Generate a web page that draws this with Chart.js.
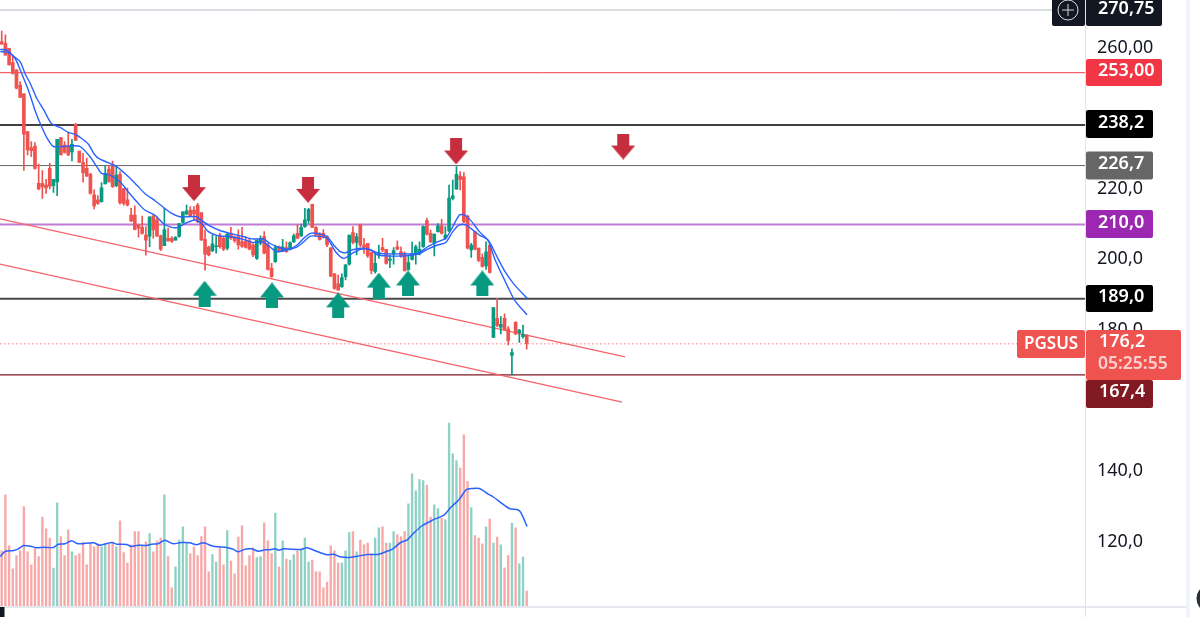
<!DOCTYPE html>
<html><head><meta charset="utf-8">
<style>html,body{margin:0;padding:0;background:#fff;overflow:hidden}canvas{display:block}</style>
<script src="https://cdn.jsdelivr.net/npm/chart.js@4/dist/chart.umd.min.js"></script>
</head><body><canvas id="c" width="1200" height="617"></canvas>
<script>
const opens=[261.8,261.3,259.9,255.9,253.8,249.5,247.0,236.3,231.8,232.2,
221.7,221.7,221.2,225.9,221.0,222.1,234.6,232.5,232.3,230.6,
238.4,230.8,227.6,225.9,224.3,218.4,217.0,216.5,221.5,225.7,
226.7,221.0,224.2,220.2,217.0,212.7,212.7,209.9,209.2,207.0,
206.7,212.4,211.3,206.8,204.0,206.1,206.1,205.6,206.6,210.6,
213.0,214.1,214.1,215.5,213.4,205.8,203.6,202.6,203.7,207.0,
206.1,203.3,207.5,206.4,206.6,205.2,205.2,205.4,204.2,200.4,
204.7,206.6,204.2,197.6,199.5,203.7,202.6,203.5,203.0,205.1,
207.5,206.8,209.4,211.1,215.7,209.2,207.3,207.5,206.6,203.4,
196.0,193.2,192.4,195.2,198.8,207.7,204.9,209.9,204.2,204.7,
202.1,196.7,201.4,203.5,203.0,199.8,201.6,203.7,202.3,201.8,
197.3,200.1,201.6,201.6,203.7,211.1,207.5,204.7,208.0,209.6,
206.1,208.2,217.4,220.0,223.7,223.5,212.4,202.8,208.0,203.3,
200.7,198.3,204.2,178.0,183.4,180.9,183.4,180.4,172.9,182.3,
179.4,178.2,178.7];
const closes=[261.1,258.0,255.2,252.8,248.6,246.0,235.6,231.1,230.9,225.9,
220.1,220.7,220.4,220.9,222.8,234.1,229.7,230.4,229.7,232.7,
233.8,227.6,224.7,223.7,218.8,215.3,216.0,220.4,224.5,222.1,
220.7,224.0,216.1,216.0,215.5,211.0,208.6,209.0,207.5,205.6,
212.2,208.5,206.7,203.0,208.6,205.4,205.2,206.4,210.3,213.6,
213.8,212.4,213.0,210.8,205.6,201.6,201.4,204.5,204.0,203.7,
203.0,207.2,206.1,205.4,204.2,203.9,203.5,203.0,201.4,205.6,
206.1,201.9,197.3,195.2,203.5,202.6,203.7,202.3,204.9,206.8,
206.1,209.2,211.3,214.3,209.2,207.0,205.8,206.4,204.2,195.4,
191.9,191.4,195.0,198.5,207.0,204.9,206.6,204.2,203.5,201.1,
196.9,199.0,201.8,202.8,199.0,200.3,202.6,203.0,201.1,196.9,
199.2,201.6,203.7,203.0,209.4,207.3,205.1,207.3,209.6,207.5,
207.0,217.5,218.1,224.2,222.8,210.8,203.3,204.2,203.0,199.8,
198.1,202.3,196.4,186.5,181.4,181.7,180.3,177.1,173.7,179.0,
180.1,178.9,176.3];
const highs=[264.8,263.7,259.9,258.0,253.8,250.5,247.0,236.3,233.5,233.2,
227.1,225.3,222.8,227.3,222.8,234.1,234.6,233.5,236.1,234.1,
238.7,230.8,230.2,228.8,224.5,219.8,218.2,221.9,226.6,226.7,
228.0,226.4,225.0,220.2,220.3,214.6,215.3,209.9,212.4,209.4,
212.2,212.7,212.2,207.0,214.6,209.0,206.6,206.6,210.3,213.6,
215.5,215.1,215.1,216.0,213.4,208.5,203.9,207.0,206.6,207.5,
206.6,207.5,209.2,206.8,208.5,209.2,206.6,206.1,204.5,205.6,
206.8,208.0,204.7,199.0,204.2,203.9,205.8,205.1,205.1,207.3,
209.9,210.1,214.6,214.6,215.8,209.4,207.7,208.6,206.8,203.4,
196.2,195.7,196.0,198.7,207.0,209.4,207.5,210.1,206.1,204.7,
202.3,202.0,204.2,206.1,203.0,201.4,203.5,205.4,203.7,202.3,
201.4,205.0,204.2,205.1,209.6,211.8,208.4,207.3,210.3,211.5,
209.4,221.2,222.6,226.4,225.0,224.7,212.7,204.7,208.0,203.3,
201.7,205.1,204.2,186.5,189.1,183.9,184.7,181.1,174.8,182.5,
180.3,181.5,178.7];
const lows=[261.1,258.0,255.2,252.6,248.4,246.0,225.3,229.7,229.2,225.7,
219.8,217.4,218.8,220.1,219.1,218.2,229.7,230.2,229.5,228.0,
233.8,227.5,222.0,223.6,218.6,214.4,215.7,216.3,221.5,222.0,
220.5,220.7,215.8,215.5,215.3,210.8,208.5,206.4,207.3,201.3,
203.7,206.1,206.6,202.6,204.0,205.2,204.9,205.6,206.4,210.3,
212.7,212.2,211.3,210.5,205.6,197.1,201.1,202.3,201.9,203.3,
202.6,202.8,205.8,204.9,203.0,203.5,203.3,202.8,200.9,200.1,
204.2,201.7,197.1,195.0,199.3,202.3,202.3,202.1,202.8,204.9,
205.9,206.6,209.2,210.3,209.2,206.6,205.6,206.1,203.7,195.2,
191.6,191.4,192.2,194.3,198.5,204.5,201.4,203.7,201.8,200.7,
196.0,196.2,200.4,202.3,198.8,197.8,198.8,202.8,200.7,196.8,
197.1,199.9,198.8,201.4,203.5,207.0,204.9,201.1,207.8,207.3,
205.8,208.0,217.0,220.0,219.8,210.5,203.1,200.7,202.8,199.5,
197.9,197.3,196.2,178.0,181.1,179.0,180.1,175.9,167.4,178.8,
176.6,177.8,174.7];
const volumes=[55.7,111.7,60.7,37.7,51,55.7,100,54.7,41.7,58,
50,89.3,77.7,68.3,38.3,103.7,70,51,76.7,54.7,
51,52.7,64.3,41.7,63.3,59.7,61.7,59.7,62.3,63.3,
64.3,59.7,85.7,54,43.3,61.7,75,75,60.7,64.7,
73,54.7,65.7,68.3,111.7,50,18.7,39.7,66.3,79.7,
63.3,53,59.7,51,70,79.7,34.7,52,44.3,58.7,
41.7,76,45.3,32.7,69.3,80.7,40.7,51,58.7,49,
50,83.7,65.7,53,93.3,39.7,65.7,47.3,46.3,52,
55.7,56.7,68.3,44.3,46.3,34.7,34.7,18.7,24.3,60.7,
55.7,43.3,43.3,55.7,74,75,54.7,66.3,61.7,63.3,
52.7,68.3,78.7,79.7,63.3,63.3,75,72,70,75,
102.7,132.7,115.7,127,126,121.3,89.3,101.7,98,88.3,
86.7,183.3,152.7,146,138.3,171.7,125,99,71,68.3,
62.7,79.7,87.3,63.3,69.3,61.7,38.7,51,83.3,78.7,
42.7,49.3,15.3];
const maUpperIdx=[-0.4,1.4,3.2,5.0,6.3,7.7,9.5,11.3,13.1,14.0,15.8,18.0,19.8,21.2,23.4,25.2,26.6,29.3,31.1,33.8,36.5,38.7,41.4,43.7,45.9,48.2,52.7,54.1,56.3,59.0,61.7,65.3,68.0,70.7,72.5,74.4,77.2,79.9,81.7,83.5,85.3,88.0,89.8,91.6,93.0,94.8,97.1,99.3,101.6,104.3,108.8,112.5,115.2,117.9,120.1,122.0,123.8,125.1,126.9,129.2,131.9,134.2,136.4,138.7,142.1];
const maUpper=[259.6,259.4,257.7,256.1,252.8,250.0,245.7,242.6,239.1,238.2,237.5,236.1,235.6,234.7,232.8,229.7,228.5,227.3,226.4,224.0,221.2,218.8,216.8,214.9,213.2,212.2,212.2,211.1,209.6,208.3,207.5,206.6,205.9,205.9,204.7,203.7,203.0,204.2,206.1,207.5,207.5,206.6,204.2,202.3,202.0,202.8,203.3,203.0,202.0,201.7,201.7,201.8,203.7,205.1,206.1,209.4,212.7,212.7,211.1,208.0,205.1,200.4,196.2,192.9,189.1];
const maLowerIdx=[-0.4,1.8,3.6,5.4,7.2,9.0,10.8,12.6,14.0,16.7,18.9,21.2,23.9,25.7,27.0,29.3,32.0,34.2,36.5,38.7,41.4,43.7,45.9,47.7,50.0,52.3,54.1,55.9,58.6,61.7,65.3,68.0,70.7,72.5,74.4,77.2,79.9,81.7,83.5,85.3,88.0,90.3,92.5,94.8,97.1,99.8,101.6,104.3,108.8,112.5,115.2,117.9,120.1,122.0,123.8,125.6,126.9,129.2,131.5,133.3,136.0,138.7,142.1];
const maLower=[259.0,258.7,257.1,252.8,248.1,242.4,237.7,233.9,232.1,232.1,232.3,232.1,229.2,226.4,224.5,224.0,222.1,219.3,216.5,214.1,212.7,210.3,209.2,209.2,210.5,211.3,210.2,208.0,206.8,206.6,205.8,204.9,205.1,203.7,202.3,202.8,203.7,205.1,206.7,206.7,206.1,202.3,200.4,201.8,203.0,202.8,201.4,201.1,201.1,201.6,203.0,204.2,204.9,208.0,209.9,209.9,208.9,207.0,205.6,200.4,194.3,188.6,184.4];
const volMaIdx=[-0.4,0.9,3.2,4.5,5.9,7.7,9.5,11.3,14.0,15.3,17.1,18.9,20.7,24.8,26.6,29.7,31.1,33.8,35.1,36.9,39.2,40.5,42.3,44.1,46.4,48.6,50.9,52.7,54.5,57.2,59.0,60.8,62.6,64.0,65.8,67.6,69.4,71.2,72.6,74.0,74.9,76.3,80.8,82.6,85.3,88.0,89.8,91.6,93.9,96.2,98.9,102.0,104.3,105.7,107.9,109.7,111.6,113.8,116.5,119.7,121.5,123.8,125.6,127.4,129.2,131.5,132.8,137.3,139.6,140.5,142.1];
const volMa=[50,55,56,57.7,61,60.3,58.7,59.3,59,62.3,62.7,65.7,62.7,63.7,61.3,64,62.3,62,60,61.3,61,62.3,62.7,66.3,62.7,64,63.7,61.7,63.7,60.3,59.7,59,57.3,54.7,57.3,57.7,55.3,56.7,56.7,57.7,56.3,57.7,57,58.7,55,51.7,52.3,49.7,49,50.3,52,52.3,55.3,57.3,64,66.7,74,81,86.3,91.7,99.3,107.3,116.7,118,118,112.7,110,98,96.7,93.3,80];
const trendIdx=[-0.46,168.6];
const trendUpper=[211.6,172.5];
const trendLowerIdx=[-0.46,167.8];
const trendLower=[198.8,159.7];
const downArrowIdx=[52.0,82.85,122.9,168.1];
const downArrowPrice=[220.3,219.8,230.7,232.1];
const upArrowIdx=[54.9,73.1,91.0,102.0,109.9,130.0];
const upArrowPrice=[190.4,189.9,187.1,192.7,193.3,193.3];
const tickValues=[260,240,220,200,180,160,140,120];
const levelPrices=[270.75,253,238.2,226.7,210,189,176.2,167.4];
const levelColors=['#b2bcc6','#f23645','#000000','#666666','#c27bd3','#4a4a4a','#f77c80','#801922'];
const levelWidths=[1,1,1.4,1,2,2,1,1.2];
const levelTexts=['270,75','253,00','238,2','226,7','210,0','189,0','176,2','167,4'];
const XMIN=-0.46, XMAX=293, PMIN=101.8, PMAX=273.6, VMAX=606.5;

const UP='#089981', DOWN='#ef5350', UPV='rgba(8,153,129,.45)', DOWNV='rgba(239,83,80,.5)';
const idx=opens.map((_,i)=>i);
const isUp=i=>closes[i]>opens[i];
const candleCol=idx.map(i=>isUp(i)?UP:DOWN);
const volCol=idx.map(i=>isUp(i)?UPV:DOWNV);
const pairs=(xs,ys)=>xs.map((x,i)=>({x,y:ys[i]}));

function arrow(up,color){
  const c=document.createElement('canvas'),w=24,h=26;c.width=w;c.height=h;
  const g=c.getContext('2d');g.fillStyle=color;g.beginPath();
  if(up){g.moveTo(12,0);g.lineTo(24,15);g.lineTo(18,15);g.lineTo(18,26);g.lineTo(6,26);g.lineTo(6,15);g.lineTo(0,15);}
  else{g.moveTo(6,0);g.lineTo(18,0);g.lineTo(18,12);g.lineTo(24,12);g.lineTo(12,26);g.lineTo(0,12);g.lineTo(6,12);}
  g.closePath();g.fill();return c;
}
const levelDatasets=levelPrices.map((p,i)=>({type:'line',data:[{x:XMIN,y:p},{x:XMAX,y:p}],borderColor:levelColors[i],borderWidth:levelWidths[i],borderDash:i===6?[1.5,2.5]:[],pointRadius:0,order:i===4?6:5,yAxisID:'y'}));
const lineDs=(data,color,w,axis,order)=>({type:'line',data,borderColor:color,borderWidth:w,pointRadius:0,tension:0.25,yAxisID:axis,order});

const fontN='"Noto Sans",sans-serif';
const labelPlugin={id:'priceLabels',afterDraw(ch){
  const g=ch.ctx;
  const box=(x,y,w,h,col)=>{g.fillStyle=col;g.beginPath();g.roundRect(x,y,w,h,2);g.fill();};
  const txt=(s,x,y,col,f)=>{g.fillStyle=col;g.font=f||'600 18px '+fontN;g.textAlign='left';g.textBaseline='middle';g.fillText(s,x,y);};
  g.save();
  g.fillStyle='#f0f3fa';g.fillRect(1186,0,4,617);
  g.fillStyle='#e6e8ef';g.fillRect(0,606,1186,2);
  g.fillStyle='#e0e3eb';g.fillRect(1085,0,1,617);
  g.fillStyle='#131722';g.fillRect(0,607,4.5,10);
  g.fillStyle='#2a2e39';g.beginPath();g.ellipse(1206,598.5,9.5,12,0,0,2*Math.PI);g.fill();
  box(1052,-3,33,29,'#131722');
  g.strokeStyle='#d6d8de';g.lineWidth=1;g.beginPath();g.arc(1068,10,10,0,2*Math.PI);g.moveTo(1062,10);g.lineTo(1074,10);g.moveTo(1068,4);g.lineTo(1068,16);g.stroke();
  const W='#ffffff';
  const rows=[[0,-3,29,76,'#131722',8.5],[1,59,27,76,'#f23645',71],[2,110,28,67,'#000000',123],[3,151.5,28,67,'#666666',164],[4,210,28,67,'#9c27b0',222.5],[5,285,27,67,'#000000',297]];
  rows.forEach(r=>{box(1086,r[1],r[3],r[2],r[4]);txt(levelTexts[r[0]],1098,r[5],W);});
  box(1017,330,68,28,'#ef5350');txt('PGSUS',1024,344,W,'600 17px '+fontN);
  box(1086,330,95,50,'#ef5350');txt(levelTexts[6],1099,342,W);txt('05:25:55',1098,364,'rgba(255,255,255,.72)','600 17.5px '+fontN);
  box(1086,380,67,28,'#801922');txt(levelTexts[7],1099,392,W);
  g.restore();
}};

new Chart(document.getElementById('c'),{
  data:{datasets:[
    ...levelDatasets,
    lineDs(pairs(trendIdx,trendUpper),'#f7636b',1.4,'y',4),
    lineDs(pairs(trendLowerIdx,trendLower),'#f7636b',1.4,'y',4),
    {type:'bar',data:idx.map(i=>({x:i,y:volumes[i]})),backgroundColor:volCol,barThickness:1.7,yAxisID:'v',grouped:false,order:8},
    {type:'bar',data:idx.map(i=>({x:i,y:[lows[i],highs[i]]})),backgroundColor:candleCol,barThickness:1,yAxisID:'y',grouped:false,order:3},
    {type:'bar',data:idx.map(i=>({x:i,y:[opens[i],closes[i]]})),backgroundColor:candleCol,barThickness:3,yAxisID:'y',grouped:false,order:2},
    lineDs(pairs(maUpperIdx,maUpper),'#2962ff',1.4,'y',1),
    lineDs(pairs(maLowerIdx,maLower),'#2962ff',1.4,'y',1),
    lineDs(pairs(volMaIdx,volMa),'#2962ff',1.5,'v',7),
    {type:'scatter',data:pairs(downArrowIdx,downArrowPrice),pointStyle:arrow(false,'#c62e3d'),pointRadius:13,yAxisID:'y',order:0},
    {type:'scatter',data:pairs(upArrowIdx,upArrowPrice),pointStyle:arrow(true,'#089981'),pointRadius:13,yAxisID:'y',order:0}
  ]},
  options:{responsive:false,animation:false,devicePixelRatio:1,
    layout:{autoPadding:false,padding:{left:0,right:0,top:0,bottom:10.5}},
    plugins:{legend:{display:false},tooltip:{enabled:false}},
    events:[],
    scales:{
      x:{type:'linear',display:false,offset:false,min:XMIN,max:XMAX},
      y:{type:'linear',position:'right',min:PMIN,max:PMAX,
        afterFit(s){s.width=115;s.paddingTop=0;s.paddingBottom=0;},
        afterBuildTicks(s){s.ticks=tickValues.map(v=>({value:v}));},
        grid:{display:false,drawTicks:false},
        border:{display:true,color:'#e0e3eb',width:1},
        ticks:{padding:12,labelOffset:-0.5,color:'#131722',font:{family:'"Noto Sans"',size:18},autoSkip:false,
          callback:v=>v===260?'260,00':v.toFixed(1).replace('.',',')}},
      v:{type:'linear',display:false,min:0,max:VMAX}
    }
  },
  plugins:[labelPlugin]
});
</script></body></html>
